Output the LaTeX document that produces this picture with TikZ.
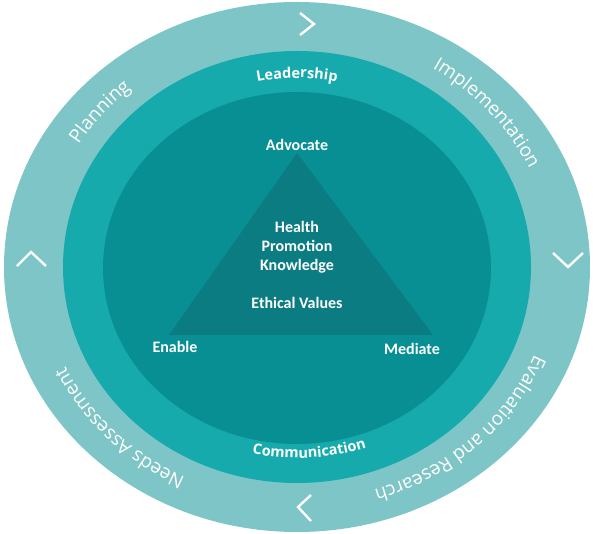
\documentclass[tikz,border=0pt]{standalone}
\usepackage{fontspec}
\setmainfont{Open Sans}
\newfontfamily\labelfont{Carlito}
\usepackage{xcolor}
\usepackage{tikz}
\usetikzlibrary{positioning,decorations.text}
\definecolor{ringout}{HTML}{7DC5C7}
\definecolor{ringmid}{HTML}{16AAAD}
\definecolor{ringin}{HTML}{088F94}
\definecolor{tricol}{HTML}{0A7C82}
\newcommand{\ringfont}{\fontsize{19}{21}\selectfont}
\newcommand{\midfont}{\bfseries\fontsize{14.5}{17}\selectfont}
\tikzset{inlab/.style={text=white,font=\labelfont\bfseries\fontsize{16}{19}\selectfont,align=center,inner sep=0pt}}
\tikzset{chev/.style={draw=white,line width=2.4pt}}
\tikzset{outtext/.style={decorate,decoration={text along path,text align=center,text color=white,text={|\ringfont|#1}}}}
\tikzset{midtext/.style={decorate,decoration={text along path,text align=center,text color=white,text={|\midfont|#1}}}}
\begin{document}
\begin{tikzpicture}[x=1pt,y=1pt]
\useasboundingbox (-297,-267) rectangle (296,267);
\fill[ringout] (0,0) ellipse [x radius=293,y radius=265];
\fill[ringmid] (0,0) ellipse [x radius=234,y radius=216];
\fill[ringin] (0,-1) ellipse [x radius=194,y radius=176];
\fill[tricol] (0,114) -- (-128,-68) -- (136,-68) -- cycle;
 \node[inlab] (adv) at (0,122) {Advocate};
 \node[inlab] (hpk) at (0,20) {Health\\Promotion\\Knowledge};
 \node[inlab] (eth) at (0,-36) {Ethical Values};
 \node[inlab] (ena) at (-122,-80) {Enable};
 \node[inlab] (med) at (115,-82) {Mediate};
\path[midtext=Leadership] (125:207 and 189) arc[start angle=125,end angle=55,x radius=207,y radius=189];
\path[midtext=Communication] (238:216 and 191) arc[start angle=238,end angle=309,x radius=216,y radius=191];
\path[outtext=Planning] (170:256 and 234) arc[start angle=170,end angle=110,x radius=256,y radius=234];
\path[outtext=Implementation] (82:256 and 234) arc[start angle=82,end angle=-1,x radius=256,y radius=234];
\path[outtext=Evaluation and Research] (8:256 and 234) arc[start angle=8,end angle=-100,x radius=256,y radius=234];
\path[outtext=Needs Assessment] (272:256 and 234) arc[start angle=272,end angle=175,x radius=256,y radius=234];
\draw[chev] (3,254) -- (17,243) -- (3,232);
\draw[chev] (256,14) -- (271,0) -- (286,14);
\draw[chev] (14,-228) -- (1,-240) -- (14,-254);
\draw[chev] (-280,1) -- (-266,15) -- (-251,1);
\end{tikzpicture}
\end{document}
